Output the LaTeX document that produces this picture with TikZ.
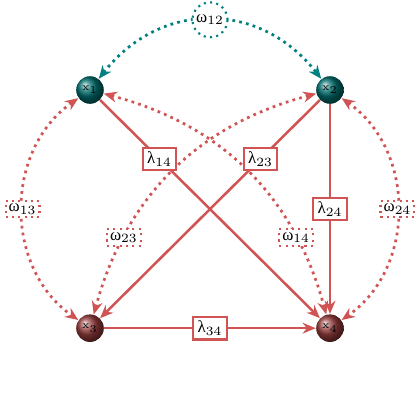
\documentclass[tikz,border=0pt]{standalone}
\usepackage{amsmath,amssymb}
\usepackage{fontspec}
\newfontfamily\grk{Liberation Serif}
\usepackage{xcolor}
\usepackage{tikz}
\usetikzlibrary{arrows.meta,shapes.geometric}

\definecolor{edgered}{RGB}{208,84,84}
\definecolor{ballteal}{RGB}{0,110,110}
\definecolor{ballred}{RGB}{150,60,60}
\definecolor{tealedge}{RGB}{0,128,128}

\newcommand{\lb}[1]{{\grk λ}$_{#1}$}
\newcommand{\om}[1]{{\grk ω}$_{#1}$}

\begin{document}
\begin{tikzpicture}[
  >={Stealth[length=2.2mm,width=1.8mm]},
  var/.style   ={circle, minimum size=4.6mm, inner sep=0pt, font=\tiny},
  obsT/.style  ={var, ball color=ballteal},
  obsR/.style  ={var, ball color=ballred},
  dir/.style   ={->, line width=1.2pt, draw=edgered},
  bid/.style   ={<->, line width=1.3pt, dotted, draw=edgered},
  bidT/.style  ={<->, line width=1.3pt, dotted, draw=tealedge},
  lam/.style   ={draw=edgered, line width=1pt, fill=white, inner sep=2pt,
                 font=\footnotesize},
  omb/.style   ={draw=edgered, line width=1pt, dotted, fill=white,
                 inner sep=1.5pt, font=\footnotesize},
  omT/.style   ={circle, draw=tealedge, line width=1pt, dotted, fill=white,
                 inner sep=1pt, font=\footnotesize}]

  \useasboundingbox (0,0) rectangle (7,7);

  % --- variables ---------------------------------------------------------
  \node[obsT] (x1) at (1.5,5.5)  {$\mathrm{x}_1$};
  \node[obsT] (x2) at (5.5,5.5)  {$\mathrm{x}_2$};
  \node[obsR] (x3) at (1.5,1.53) {$\mathrm{x}_3$};
  \node[obsR] (x4) at (5.5,1.53) {$\mathrm{x}_4$};

  % --- bidirected (dotted) -----------------------------------------------
  \draw[bidT] (x1) to[out=52, in=128, looseness=1.15]
    node[omT]{\om{12}} (x2);
  \draw[bid] (x1) to[out=215, in=145, looseness=1.05]
    node[omb]{\om{13}} (x3);
  \draw[bid] (x2) to[out=-35, in=35, looseness=1.05]
    node[omb]{\om{24}} (x4);
  \draw[bid] (x1) to[bend left=30]
    node[omb, pos=.76]{\om{14}} (x4);
  \draw[bid] (x2) to[bend right=30]
    node[omb, pos=.76]{\om{23}} (x3);

  % --- directed (solid) --------------------------------------------------
  \draw[dir] (x1) -- node[lam, pos=.27]{\lb{14}} (x4);
  \draw[dir] (x2) -- node[lam, pos=.27]{\lb{23}} (x3);
  \draw[dir] (x2) -- node[lam]{\lb{24}} (x4);
  \draw[dir] (x3) -- node[lam]{\lb{34}} (x4);
\end{tikzpicture}
\end{document}
